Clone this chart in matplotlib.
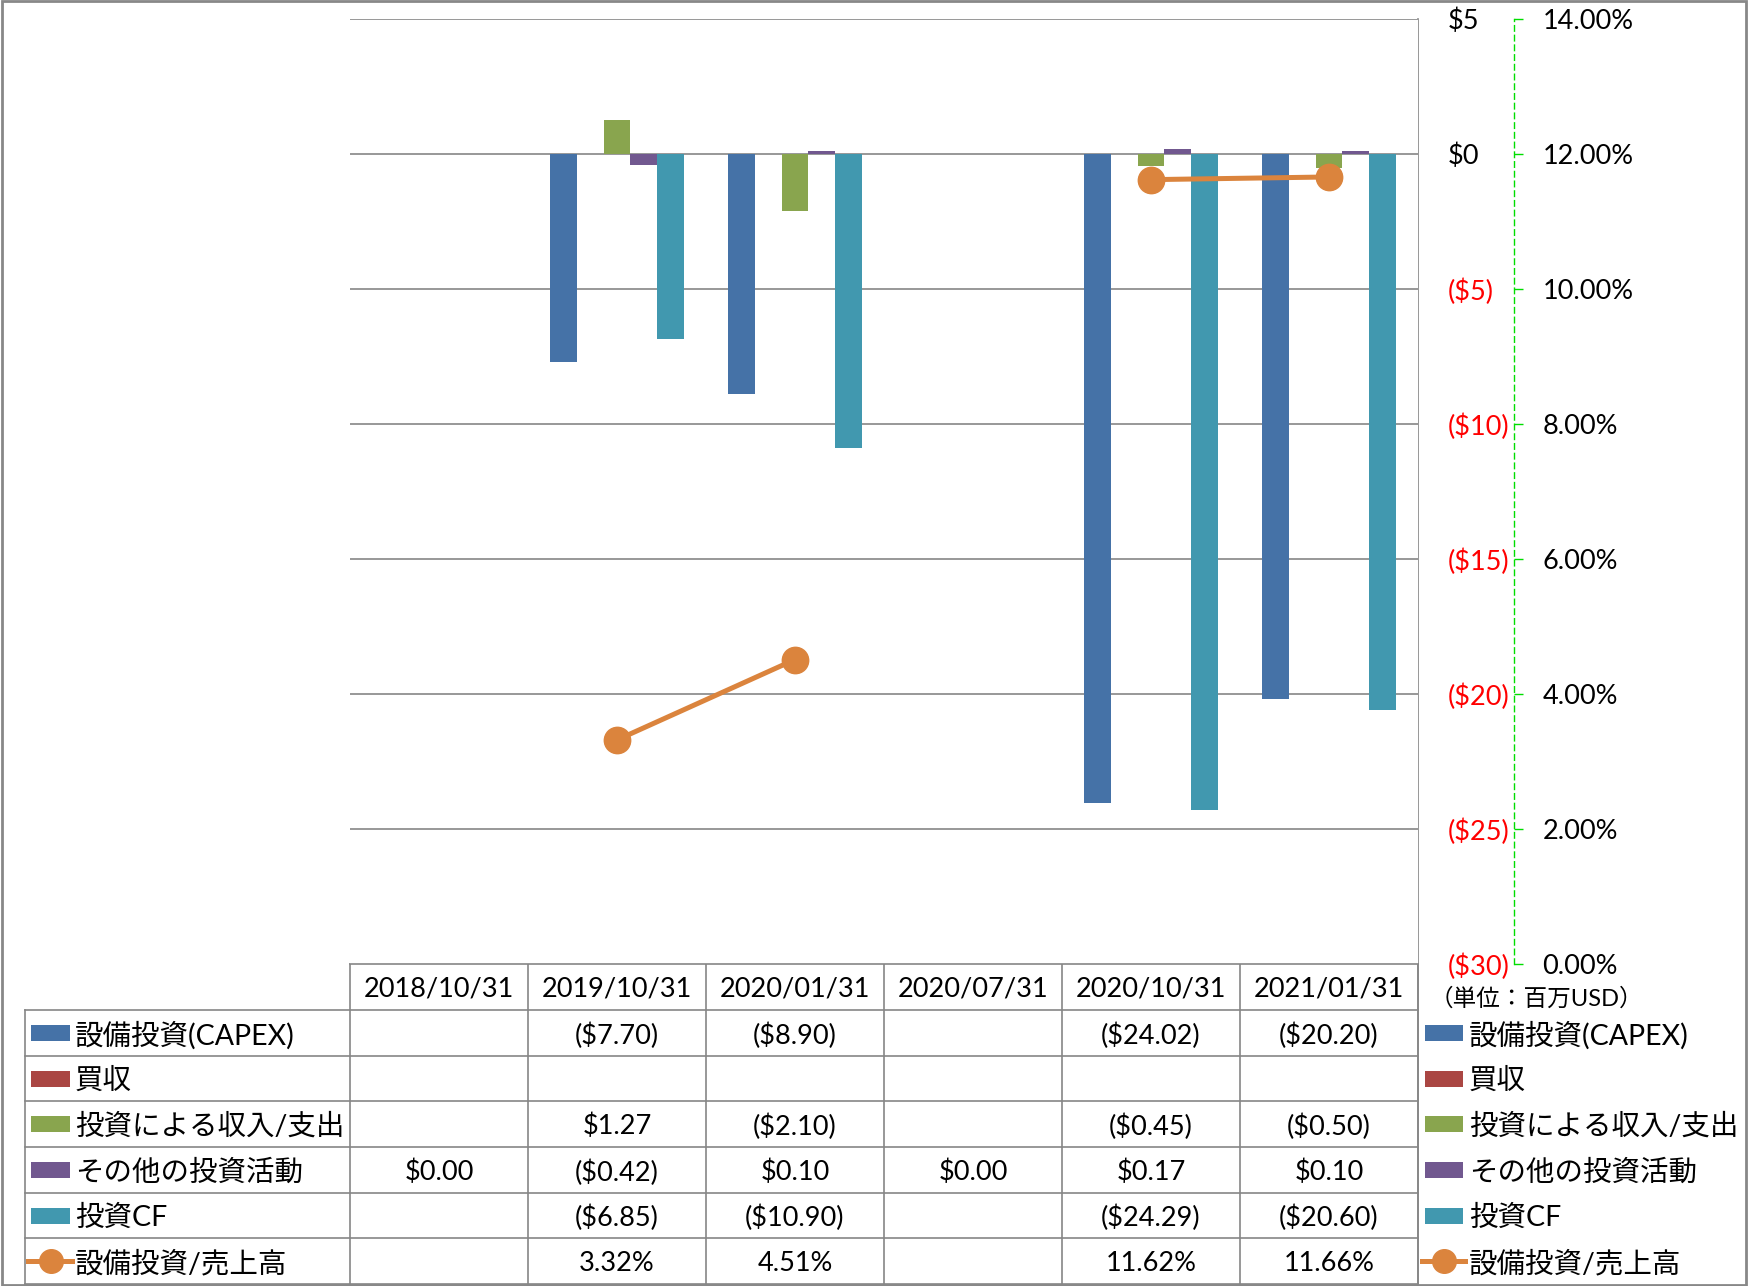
import matplotlib.pyplot as plt
import numpy as np
from matplotlib.patches import Rectangle
from matplotlib.lines import Line2D

plt.rcParams['font.family'] = ['Lato', 'Noto Sans CJK JP', 'DejaVu Sans']

# data
dates = ['2018/10/31', '2019/10/31', '2020/01/31', '2020/07/31', '2020/10/31', '2021/01/31']
series_names = ['設備投資(CAPEX)', '買収', '投資による収入/支出', 'その他の投資活動', '投資CF']
capex = [np.nan, -7.70, -8.90, np.nan, -24.02, -20.20]
acquisition = [np.nan] * 6
invest_inout = [np.nan, 1.27, -2.10, np.nan, -0.45, -0.50]
other_invest = [0.00, -0.42, 0.10, 0.00, 0.17, 0.10]
invest_cf = [np.nan, -6.85, -10.90, np.nan, -24.29, -20.60]
ratio_name = '設備投資/売上高'
capex_ratio = [np.nan, 3.32, 4.51, np.nan, 11.62, 11.66]

colors = ['#4572A7', '#AA4643', '#89A54E', '#71588F', '#4198AF']
line_color = '#DB843D'
grid_color = '#868686'
fs = 19.5        # numbers / dates
fs_name = 20.5   # series names

W, H = 1748, 1286
fig = plt.figure(figsize=(W / 100, H / 100), dpi=100)

# plot area in pixels (top-origin)
px_l, px_r, px_t, px_b = 350, 1418, 19, 964
ax = fig.add_axes([px_l / W, 1 - px_b / H, (px_r - px_l) / W, (px_b - px_t) / H])
ax.set_xlim(0, 6)
ax.set_ylim(-30, 5)

all_series = [capex, acquisition, invest_inout, other_invest, invest_cf]
n = len(dates)
bw = 1 / 6.6
x = np.arange(n) + 0.5
for k, (vals, c) in enumerate(zip(all_series, colors)):
    ax.bar(x + (k - 2) * bw, np.nan_to_num(vals), width=bw, color=c, zorder=2)

yt = np.arange(-30, 6, 5)
ax.set_yticks(yt)
ax.grid(axis='y', color=grid_color, lw=1.2, zorder=0)
ax.set_axisbelow(True)
for s in ax.spines.values():
    s.set_visible(False)
ax.set_xticks([])

# secondary axis
ax2 = ax.twinx()
ax2.set_ylim(0, 14)
ax2.set_yticks(np.arange(0, 15, 2))
ax2.set_yticklabels([f'{v:.2f}%' for v in np.arange(0, 15, 2)])
for s in ['top', 'left', 'bottom']:
    ax2.spines[s].set_visible(False)
ax2.spines['right'].set_position(('outward', 96 * 0.72))
ax2.spines['right'].set_color('#00DD00')
ax2.spines['right'].set_linestyle((0, (4, 3)))
ax2.spines['right'].set_linewidth(1)
ax2.tick_params(axis='y', direction='out', length=6.5, width=1, color='#00DD00',
                pad=14, labelsize=fs)
ax2.plot(x, capex_ratio, color=line_color, lw=3.6, marker='o', ms=19,
         mfc=line_color, mec=line_color, zorder=5)

# primary tick labels on the right (after twinx, which resets them to the left)
ax.yaxis.tick_right()
ax.tick_params(axis='y', length=0, pad=21.6, labelsize=fs)


def money(v):
    return f'${v:.0f}' if v >= 0 else f'(${-v:.0f})'


ax.set_yticklabels([money(v) for v in yt])
for lab, v in zip(ax.get_yticklabels(), yt):
    lab.set_color('red' if v < 0 else 'black')
    lab.set_horizontalalignment('left')

# table / legend overlay in pixel coordinates
tab = fig.add_axes([0, 0, 1, 1], zorder=-1)
tab.set_xlim(0, W)
tab.set_ylim(H, 0)
tab.axis('off')

col_w = (px_r - px_l) / n
row_top = 1010
row_h = (1284 - row_top) / 6
lc = grid_color
tbl_l = 25
dy = 2.5  # small downward nudge for text

tab.plot([px_l, px_r], [px_b, px_b], color=lc, lw=1.2)
for i in range(n + 1):
    xx = px_l + i * col_w
    tab.plot([xx, xx], [px_b, 1284], color=lc, lw=1.2)
tab.plot([tbl_l, tbl_l], [row_top, 1284], color=lc, lw=1.2)
for r in range(7):
    yy = row_top + r * row_h
    tab.plot([tbl_l, px_r], [yy, yy], color=lc, lw=1.2)
tab.plot([px_r, px_r], [px_t, 1284], color=lc, lw=1.2)

for i, d in enumerate(dates):
    tab.text(px_l + (i + 0.5) * col_w, (px_b + row_top) / 2 + dy, d, ha='center',
             va='center', fontsize=fs)


def fmt_money(v):
    if np.isnan(v):
        return ''
    return f'${v:.2f}' if v >= 0 else f'(${-v:.2f})'


rows = [(name, vals, 'bar', c) for name, vals, c in zip(series_names, all_series, colors)]
rows.append((ratio_name, capex_ratio, 'line', line_color))

for r, (name, vals, kind, c) in enumerate(rows):
    yc = row_top + (r + 0.5) * row_h
    for i, v in enumerate(vals):
        if kind == 'bar':
            s = fmt_money(v)
        else:
            s = '' if np.isnan(v) else f'{v:.2f}%'
        tab.text(px_l + (i + 0.5) * col_w, yc + dy, s, ha='center', va='center', fontsize=fs)
    # legend keys: inside the table on the left, free legend on the right
    for x0, x1, tx in [(31, 70, 75), (1425, 1463, 1469)]:
        if kind == 'bar':
            tab.add_patch(Rectangle((x0, yc - 8), x1 - x0, 16, color=c, lw=0))
        else:
            tab.add_line(Line2D([x0 - 3, x1 + 2], [yc, yc], color=c, lw=3.6))
            tab.add_line(Line2D([(x0 + x1) / 2], [yc], marker='o', ms=17, color=c))
        tab.text(tx, yc + dy, name, ha='left', va='center', fontsize=fs_name)

tab.text(1430, 998, '（単位：百万USD）', ha='left', va='center', fontsize=17)

# outer border
fig.add_artist(Rectangle((0.001, 0.001), 0.998, 0.998, transform=fig.transFigure,
                         fill=False, ec='#888888', lw=2))

fig.savefig('out.png', dpi=100)
